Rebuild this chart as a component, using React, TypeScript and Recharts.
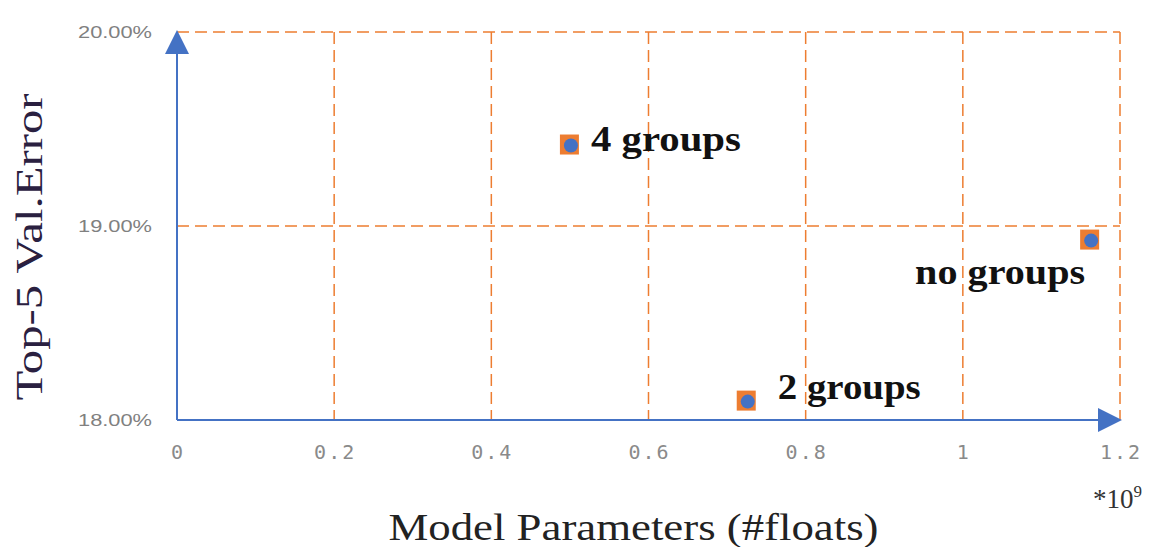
import { ScatterChart, Scatter, XAxis, YAxis, CartesianGrid } from "recharts";

// values
const groupNames = ["4 groups", "2 groups", "no groups"];
const modelParams = [0.5, 0.725, 1.162]; // *10^9 floats
const top5Error = [19.42, 18.1, 18.93]; // percent

const xTicks = [0, 0.2, 0.4, 0.6, 0.8, 1, 1.2];
const yTicks = [18, 19, 20];

const points = groupNames.map((name, i) => ({
  name,
  x: modelParams[i],
  y: top5Error[i],
}));

const ORANGE = "#ED7D31";
const BLUE = "#4472C4";

// where each label sits relative to its point
const labelPlace: Record<string, { dx: number; dy: number; anchor: string; len: number }> = {
  "4 groups": { dx: 21, dy: 6, anchor: "start", len: 150 },
  "2 groups": { dx: 31, dy: -2, anchor: "start", len: 143 },
  "no groups": { dx: -5, dy: 44, anchor: "end", len: 170 },
};

const PointShape = (props: any) => {
  const { cx, cy, payload } = props;
  const lp = labelPlace[payload.name];
  return (
    <g>
      <rect x={cx - 10} y={cy - 10} width={19} height={20} fill={ORANGE} />
      <circle cx={cx + 1} cy={cy + 1} r={7} fill={BLUE} />
      {lp && (
        <text
          x={cx + lp.dx}
          y={cy + lp.dy}
          textAnchor={lp.anchor as any}
          fontFamily="'Liberation Serif', serif"
          fontWeight="bold"
          fontSize={36}
          fill="#111"
          textLength={lp.len}
          lengthAdjust="spacingAndGlyphs"
        >
          {payload.name}
        </text>
      )}
    </g>
  );
};

const YTick = (props: any) => {
  const { x, y, payload } = props;
  return (
    <text
      x={x}
      y={y}
      textAnchor="end"
      dominantBaseline="central"
      fontFamily="'Liberation Sans', sans-serif"
      fontSize={16}
      fill="#808080"
      textLength={74}
      lengthAdjust="spacingAndGlyphs"
    >
      {payload.value.toFixed(2) + "%"}
    </text>
  );
};

const XTick = (props: any) => {
  const { x, y, payload } = props;
  return (
    <text
      x={x + 1}
      y={y}
      textAnchor="middle"
      dominantBaseline="central"
      fontFamily="'DejaVu Sans Mono', monospace"
      fontSize={20}
      letterSpacing={2}
      fill="#8a8a8a"
    >
      {String(payload.value)}
    </text>
  );
};

const XLabel = (props: any) => {
  const { viewBox } = props;
  const cx = viewBox.x + viewBox.width / 2 - 15;
  return (
    <g>
      <defs>
        <marker
          id="axisArrow"
          viewBox="0 0 24 24"
          markerUnits="userSpaceOnUse"
          markerWidth={24}
          markerHeight={24}
          refX={22}
          refY={12}
          orient="auto-start-reverse"
        >
          <path d="M0,0 L24,12 L0,24 z" fill={BLUE} />
        </marker>
      </defs>
      <text
        x={cx}
        y={532}
        textAnchor="middle"
        fontFamily="'Liberation Serif', serif"
        fontSize={38}
        fill="#222"
        textLength={490}
        lengthAdjust="spacingAndGlyphs"
      >
        Model Parameters (#floats)
      </text>
      <text
        x={1085}
        y={500}
        fontFamily="'Liberation Serif', serif"
        fontSize={27}
        fill="#333"
      >
        *10
        <tspan dy={-11} fontSize={17}>
          9
        </tspan>
      </text>
    </g>
  );
};

const YLabel = (props: any) => {
  const { viewBox } = props;
  const cy = viewBox.y + viewBox.height / 2 + 21;
  const x = 34;
  return (
    <text
      x={x}
      y={cy}
      transform={`rotate(-90 ${x} ${cy})`}
      textAnchor="middle"
      fontFamily="'Liberation Serif', serif"
      fontSize={38}
      fill="#2a2040"
      textLength={307}
      lengthAdjust="spacingAndGlyphs"
    >
      Top-5 Val.Error
    </text>
  );
};

export default function App() {
  return (
    <ScatterChart
      width={1147}
      height={539}
      margin={{ top: 24, right: 35, bottom: 67, left: 69 }}
      style={{ background: "#fff" }}
    >
      <CartesianGrid stroke={ORANGE} strokeWidth={1.5} strokeDasharray="12 6" />
      <XAxis
        type="number"
        dataKey="x"
        domain={[0, 1.2]}
        ticks={xTicks}
        height={60}
        tickLine={false}
        tickSize={0}
        tickMargin={32}
        tick={<XTick />}
        axisLine={{ stroke: BLUE, strokeWidth: 2, markerEnd: "url(#axisArrow)" }}
        label={<XLabel />}
      />
      <YAxis
        type="number"
        dataKey="y"
        domain={[18, 20]}
        ticks={yTicks}
        width={100}
        tickLine={false}
        tickSize={0}
        tickMargin={25}
        tick={<YTick />}
        axisLine={{ stroke: BLUE, strokeWidth: 2, markerStart: "url(#axisArrow)" }}
        label={<YLabel />}
      />
      <Scatter data={points} shape={<PointShape />} isAnimationActive={false} />
    </ScatterChart>
  );
}
